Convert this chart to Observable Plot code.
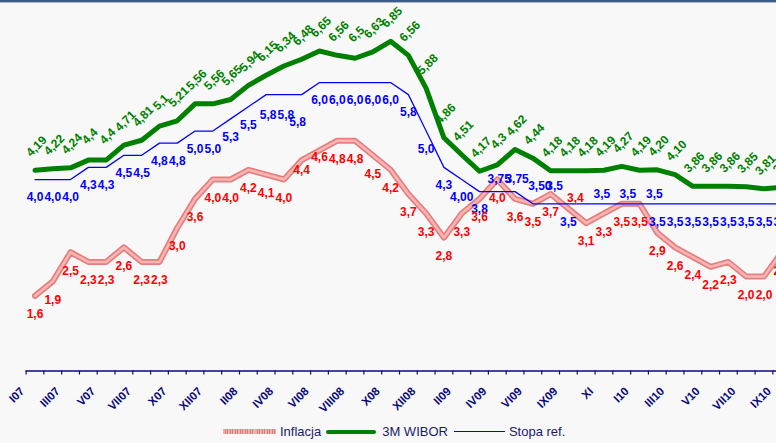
<!DOCTYPE html>
<html>
<head>
<meta charset="utf-8">
<script src="https://cdn.jsdelivr.net/npm/d3@7"></script>
<script src="https://cdn.jsdelivr.net/npm/@observablehq/plot@0.6"></script>
<style>
  html, body { margin: 0; padding: 0; background: #f8f8f8; width: 776px; height: 443px; overflow: hidden; }
  #stripe { height: 2px; background: #3d5d8a; border-bottom: 1px solid #a9b8cc; }
  #legend { display: flex; align-items: center; height: 23px; padding-left: 223px;
            font: 13px "Liberation Sans", Arial, sans-serif; color: #1a1a6a; white-space: nowrap; }
  .sw-infl { width: 53px; height: 5px; margin-right: 4px;
             background: repeating-linear-gradient(90deg, #f4acac 0 1.5px, #e47a7a 1.5px 2.5px); }
  .sw-wibor { width: 50px; height: 4px; background: #008000; margin-left: 5px; margin-right: 6px; border-radius: 2px; }
  .sw-stopa { width: 51px; height: 1.3px; background: #0000ff; margin-left: 6px; margin-right: 4px; }
</style>
</head>
<body>
<div id="stripe"></div>
<div id="chart"></div>
<div id="legend">
  <div class="sw-infl"></div><span>Inflacja</span>
  <div class="sw-wibor"></div><span>3M WIBOR</span>
  <div class="sw-stopa"></div><span>Stopa ref.</span>
</div>
<script>
// Categories (months) – as labelled in the source
const months = ["I07","II07","III07","IV07","V07","VI07","VII07","IX07","X07","XI07","XII07",
  "I08","II08","III08","IV08","V08","VI08","VII08","VIII08","IX08","X08","XI08","XII08",
  "I09","II09","III09","IV09","V09","VI09","VIII09","IX09","X09","XI","XII09",
  "I10","II10","III10","IV10","V10","VI10","VII10","VIII10","IX10"];

// Inflacja
const inflacja = [1.6,1.9,2.5,2.3,2.3,2.6,2.3,2.3,3.0,3.6,
  4.0,4.0,4.2,4.1,4.0,4.4,4.6,4.8,4.8,4.5,
  4.2,3.7,3.3,2.8,3.3,3.6,4.0,3.6,3.5,3.7,
  3.4,3.1,3.3,3.5,3.5,2.9,2.6,2.4,2.2,2.3,
  2.0,2.0,2.5];

// 3M WIBOR
const wibor = [4.19,4.22,4.24,4.40,4.40,4.71,4.81,5.10,5.21,5.56,
  5.56,5.65,5.94,6.15,6.34,6.48,6.65,6.56,6.50,6.63,
  6.85,6.56,5.88,4.86,4.51,4.17,4.30,4.62,4.44,4.18,
  4.18,4.18,4.19,4.27,4.19,4.20,4.10,3.86,3.86,3.86,
  3.85,3.81,3.84];
const wiborLabels = ["4,19","4,22","4,24","4,4","4,4","4,71","4,81","5,1","5,21","5,56",
  "5,56","5,65","5,94","6,15","6,34","6,48","6,65","6,56","6,5","6,63",
  "6,85","6,56","5,88","4,86","4,51","4,17","4,3","4,62","4,44","4,18",
  "4,18","4,18","4,19","4,27","4,19","4,20","4,10","3,86","3,86","3,86",
  "3,85","3,81","3,84"];

// Stopa referencyjna
const stopa = [4.0,4.0,4.0,4.25,4.25,4.5,4.5,4.75,4.75,5.0,
  5.0,5.25,5.5,5.75,5.75,5.75,6.0,6.0,6.0,6.0,
  6.0,5.75,5.0,4.25,4.0,3.75,3.75,3.75,3.5,3.5,
  3.5,3.5,3.5,3.5,3.5,3.5,3.5,3.5,3.5,3.5,
  3.5,3.5,3.5];
const stopaLabels = ["4,0","4,0","4,0","4,3","4,3","4,5","4,5","4,8","4,8","5,0",
  "5,0","5,3","5,5","5,8","5,8","5,8","6,0","6,0","6,0","6,0",
  "6,0","5,8","5,0","4,3","4,00","3,8","3,75","3,75","3,50","3,5",
  "3,5","3,5","3,5","3,5","3,5","3,5","3,5","3,5","3,5","3,5",
  "3,5","3,5","3,5"];

const font = '"Liberation Sans", Arial, sans-serif';
const idx = d3.range(months.length);
const edges = d3.range(-0.5, months.length, 1);
const even = idx.filter(i => i % 2 === 0);
const fmt1 = v => v.toFixed(1).replace(".", ",");

const RED = "#ff0000", GREEN = "#008000", BLUE = "#0000ff", NAVY = "#0a0a7a";

function labels(ids, values, text, fill, extra = {}) {
  return Plot.text(ids, {
    x: d => d, y: d => values[d], text: d => text(d),
    fill, fontWeight: "bold", fontSize: 12, fontFamily: font, ...extra
  });
}

// label placement groups (style, not data)
const redNormal = idx.filter(i => ![15, 16, 30].includes(i));
const blueBelow = idx.filter(i => (i <= 25 && ![13, 14, 15].includes(i)) || i === 30 || i >= 35);
const blueTxt = i => stopaLabels[i];
const redTxt = i => fmt1(inflacja[i]);

const chart = Plot.plot({
  width: 776, height: 417,
  marginLeft: 25.6, marginRight: 0, marginTop: 0, marginBottom: 49.5,
  style: { background: "#f8f8f8", fontFamily: font },
  x: { type: "linear", domain: [0, 42], range: [34.5, 34.5 + 42 * 17.78], axis: null },
  y: { type: "linear", domain: [0, 7], range: [370, 370 - 7 * 48.5], axis: null },
  marks: [
    Plot.ruleY([0], { stroke: NAVY, strokeWidth: 1.3, dy: -2.5 }),
    Plot.axisX(edges, { tickSize: 4, tickFormat: () => "", stroke: NAVY, strokeWidth: 1.2 }),
    Plot.text(even, {
      x: d => d, text: d => months[d], frameAnchor: "bottom", rotate: -45,
      textAnchor: "end", dx: -10, dy: 21, fill: NAVY, fontWeight: "bold",
      fontSize: 11.5, fontFamily: font
    }),
    // lines
    Plot.line(idx, { x: d => d, y: d => inflacja[d], stroke: "#e77e7e", strokeWidth: 6 }),
    Plot.line(idx, { x: d => d, y: d => inflacja[d], stroke: "#f7b6b6", strokeWidth: 2.6, strokeDasharray: "1.4,1.1" }),
    Plot.line(idx, { x: d => d, y: d => wibor[d], stroke: "#008000", strokeWidth: 5, strokeLinejoin: "round" }),
    Plot.line(idx, { x: d => d, y: d => stopa[d], stroke: BLUE, strokeWidth: 1.25 }),
    // blue labels
    labels(blueBelow, stopa, blueTxt, BLUE, { dy: 18 }),
    labels([13, 14], stopa, blueTxt, BLUE, { dy: 21, dx: 2 }),
    labels([15], stopa, blueTxt, BLUE, { dy: 28, dx: -4 }),
    labels([26, 27], stopa, blueTxt, BLUE, { dy: -12, dx: 2 }),
    labels([28], stopa, blueTxt, BLUE, { dy: -18, dx: 7 }),
    labels([29], stopa, blueTxt, BLUE, { dy: -18, dx: 4 }),
    labels([32], stopa, blueTxt, BLUE, { dy: -10, dx: -2 }),
    labels([33], stopa, blueTxt, BLUE, { dy: -10, dx: 6 }),
    labels([35], stopa, blueTxt, BLUE, { dy: -10, dx: -3 }),
    // red labels
    labels(redNormal, inflacja, redTxt, RED, { dy: 18.5 }),
    labels([15], inflacja, redTxt, RED, { dy: 10 }),
    labels([16], inflacja, redTxt, RED, { dy: 7 }),
    labels([30], inflacja, redTxt, RED, { dy: -10, dx: 7 }),
    // green labels
    labels(idx, wibor, i => wiborLabels[i], GREEN, { rotate: -45, dy: -24, dx: 1.5, fontSize: 12 })
  ]
});
document.getElementById("chart").appendChild(chart);
</script>
</body>
</html>
